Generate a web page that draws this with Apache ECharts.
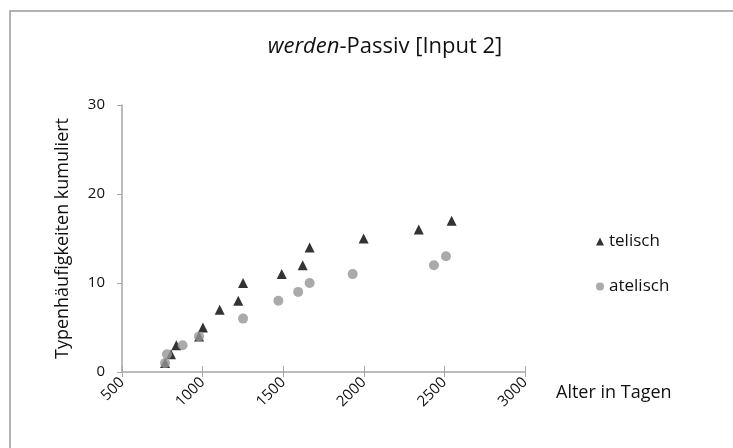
<!DOCTYPE html>
<html>
<head>
<meta charset="utf-8">
<script src="https://cdn.jsdelivr.net/npm/echarts@6/dist/echarts.min.js"></script>
<style>
    html, body { margin: 0; padding: 0; background: #fff; }
    #chart { width: 733px; height: 448px; }
</style>
</head>
<body>
<div id="chart"></div>
<script>
// Alter in Tagen / kumulierte Typenhäufigkeiten
const telischDays = [767, 804, 837, 978, 1002, 1106, 1221, 1251, 1491, 1621, 1664, 1999, 2341, 2545]
const telischTypes = [1, 2, 3, 4, 5, 7, 8, 10, 11, 12, 14, 15, 16, 17]
const atelischDays = [767, 779, 876, 978, 1251, 1470, 1593, 1664, 1931, 2435, 2510]
const atelischTypes = [1, 2, 3, 4, 6, 8, 9, 10, 11, 12, 13]
const xTicks = [500, 3000, 500]   // min, max, interval
const yTicks = [0, 30, 10]

const font = '"Open Sans", Lato, sans-serif'
const axisGray = '#a6a6a6'
const textColor = '#111'

const pairs = (xs, ys) => xs.map((x, i) => [x, ys[i]])

const chart = echarts.init(document.getElementById('chart'))
chart.setOption({
    animation: false,
    textStyle: { fontFamily: font },
    title: {
        text: '{i|werden}-Passiv [Input 2]',
        left: 380,
        top: 31,
        textAlign: 'center',
        textStyle: {
            fontSize: 22,
            fontWeight: 'normal',
            color: textColor,
            rich: {
                i: { fontSize: 22, fontStyle: 'italic', color: textColor, fontFamily: font }
            }
        }
    },
    grid: { left: 122, right: 208, top: 105, bottom: 76 },
    legend: {
        orient: 'vertical',
        left: 591,
        top: 228,
        itemGap: 28,
        itemWidth: 8,
        itemHeight: 8,
        textStyle: { fontSize: 17, color: textColor },
        data: ['telisch', 'atelisch']
    },
    xAxis: [{
        type: 'value',
        min: xTicks[0],
        max: xTicks[1],
        interval: xTicks[2],
        name: 'Alter in Tagen',
        nameLocation: 'end',
        nameGap: 31,
        nameTextStyle: { fontSize: 18, color: textColor, align: 'left', verticalAlign: 'top', padding: [12, 0, 0, 0] },
        axisLine: { lineStyle: { color: axisGray, width: 1.5 } },
        axisTick: { length: 5, lineStyle: { color: axisGray } },
        axisLabel: { rotate: 45, fontSize: 15, color: textColor, margin: 8, formatter: v => String(v) },
        splitLine: { show: false }
    }, {
        type: 'value',
        position: 'bottom',
        min: xTicks[0],
        max: xTicks[1],
        interval: xTicks[2],
        axisLine: { show: false },
        axisTick: { inside: true, length: 6, lineStyle: { color: axisGray } },
        axisLabel: { show: false },
        splitLine: { show: false }
    }],
    yAxis: {
        type: 'value',
        min: yTicks[0],
        max: yTicks[1],
        interval: yTicks[2],
        name: 'Typenhäufigkeiten kumuliert',
        nameLocation: 'middle',
        nameGap: 50,
        nameTextStyle: { fontSize: 18, color: textColor },
        axisLine: { show: true, lineStyle: { color: axisGray, width: 1.5 } },
        axisTick: { show: true, length: 5, lineStyle: { color: axisGray } },
        axisLabel: { fontSize: 15, color: textColor, margin: 17 },
        splitLine: { show: false }
    },
    graphic: [{
        type: 'rect',
        shape: { x: 10, y: 11, width: 760, height: 460 },
        style: { fill: 'none', stroke: '#9a9a9a', lineWidth: 1.5 },
        silent: true
    }],
    series: [{
        name: 'telisch',
        type: 'scatter',
        symbol: 'triangle',
        symbolSize: 10,
        itemStyle: { color: '#000' },
        data: pairs(telischDays, telischTypes)
    }, {
        name: 'atelisch',
        type: 'scatter',
        symbol: 'circle',
        symbolSize: 10,
        itemStyle: { color: '#959595' },
        data: pairs(atelischDays, atelischTypes)
    }]
})
</script>
</body>
</html>
